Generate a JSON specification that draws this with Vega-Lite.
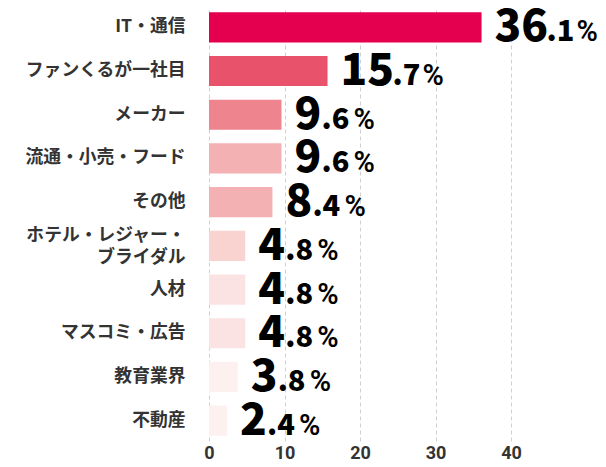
{
  "$schema": "https://vega.github.io/schema/vega-lite/v6.json",
  "width": 302,
  "height": 434,
  "autosize": {"type": "none"},
  "padding": {"left": 209, "top": 7, "right": 95, "bottom": 26},
  "background": "white",
  "config": {"view": {"stroke": null}},
  "data": {
    "values": [
      {"category": "IT・通信", "value": 36.1},
      {"category": "ファンくるが一社目", "value": 15.7},
      {"category": "メーカー", "value": 9.6},
      {"category": "流通・小売・フード", "value": 9.6},
      {"category": "その他", "value": 8.4},
      {"category": "ホテル・レジャー・ブライダル", "value": 4.8},
      {"category": "人材", "value": 4.8},
      {"category": "マスコミ・広告", "value": 4.8},
      {"category": "教育業界", "value": 3.8},
      {"category": "不動産", "value": 2.4}
    ]
  },
  "transform": [
    {"calculate": "toString(floor(datum.value))", "as": "intPart"},
    {"calculate": "'.' + toString(round(datum.value * 10) % 10)", "as": "decPart"}
  ],
  "encoding": {
    "y": {
      "field": "category",
      "type": "nominal",
      "sort": null,
      "scale": {"paddingInner": 0.31, "paddingOuter": 0.12},
      "axis": {
        "title": null,
        "domain": false,
        "ticks": false,
        "labelPadding": 24,
        "labelFont": "Noto Sans CJK JP",
        "labelFontSize": 17.8,
        "labelFontWeight": "bold",
        "labelColor": "#333333",
        "labelLineHeight": 21.5,
        "labelOffset": {"condition": {"test": "datum.value == 'ホテル・レジャー・ブライダル'", "value": -9.5}, "value": 0},
        "labelExpr": "datum.value == 'ホテル・レジャー・ブライダル' ? ['ホテル・レジャー・', 'ブライダル'] : datum.value"
      }
    },
    "x": {
      "field": "value",
      "type": "quantitative",
      "scale": {"domain": [0, 40], "nice": false},
      "axis": {
        "title": null,
        "values": [0, 10, 20, 30, 40],
        "domain": false,
        "ticks": false,
        "labelFlush": false,
        "labelPadding": 3,
        "labelFont": "Roboto",
        "labelFontSize": 18,
        "labelFontWeight": "bold",
        "labelColor": "#333333",
        "gridColor": "#d0d0d0",
        "gridDash": [4, 3],
        "gridWidth": 1
      }
    }
  },
  "layer": [
    {
      "mark": {"type": "bar"},
      "encoding": {
        "color": {
          "field": "category",
          "type": "nominal",
          "legend": null,
          "scale": {
            "domain": ["IT・通信", "ファンくるが一社目", "メーカー", "流通・小売・フード", "その他", "ホテル・レジャー・ブライダル", "人材", "マスコミ・広告", "教育業界", "不動産"],
            "range": ["#e4004f", "#e8536b", "#ee858e", "#f3b1b4", "#f3b1b4", "#f8d3cf", "#fbe3e3", "#fbe3e3", "#fdf1ef", "#fdf1ef"]
          }
        }
      }
    },
    {
      "mark": {"type": "text", "align": "left", "baseline": "alphabetic", "dx": 13, "dy": 14, "font": "Noto Sans CJK JP", "fontSize": 44, "fontWeight": 900, "color": "#000000"},
      "encoding": {"text": {"field": "intPart"}}
    },
    {
      "transform": [{"filter": "datum.value < 10"}],
      "mark": {"type": "text", "align": "left", "baseline": "alphabetic", "dx": 40, "dy": 14, "font": "Noto Sans CJK JP", "fontSize": 29, "fontWeight": 900, "color": "#000000"},
      "encoding": {"text": {"field": "decPart"}}
    },
    {
      "transform": [{"filter": "datum.value >= 10"}],
      "mark": {"type": "text", "align": "left", "baseline": "alphabetic", "dx": 65, "dy": 14, "font": "Noto Sans CJK JP", "fontSize": 29, "fontWeight": 900, "color": "#000000"},
      "encoding": {"text": {"field": "decPart"}}
    },
    {
      "transform": [{"filter": "datum.value < 10"}],
      "mark": {"type": "text", "align": "left", "baseline": "alphabetic", "dx": 72, "dy": 14, "font": "Roboto", "fontSize": 29, "fontWeight": 600, "color": "#000000", "text": "%"},
      "encoding": {}
    },
    {
      "transform": [{"filter": "datum.value >= 10"}],
      "mark": {"type": "text", "align": "left", "baseline": "alphabetic", "dx": 95, "dy": 14, "font": "Roboto", "fontSize": 29, "fontWeight": 600, "color": "#000000", "text": "%"},
      "encoding": {}
    }
  ]
}
